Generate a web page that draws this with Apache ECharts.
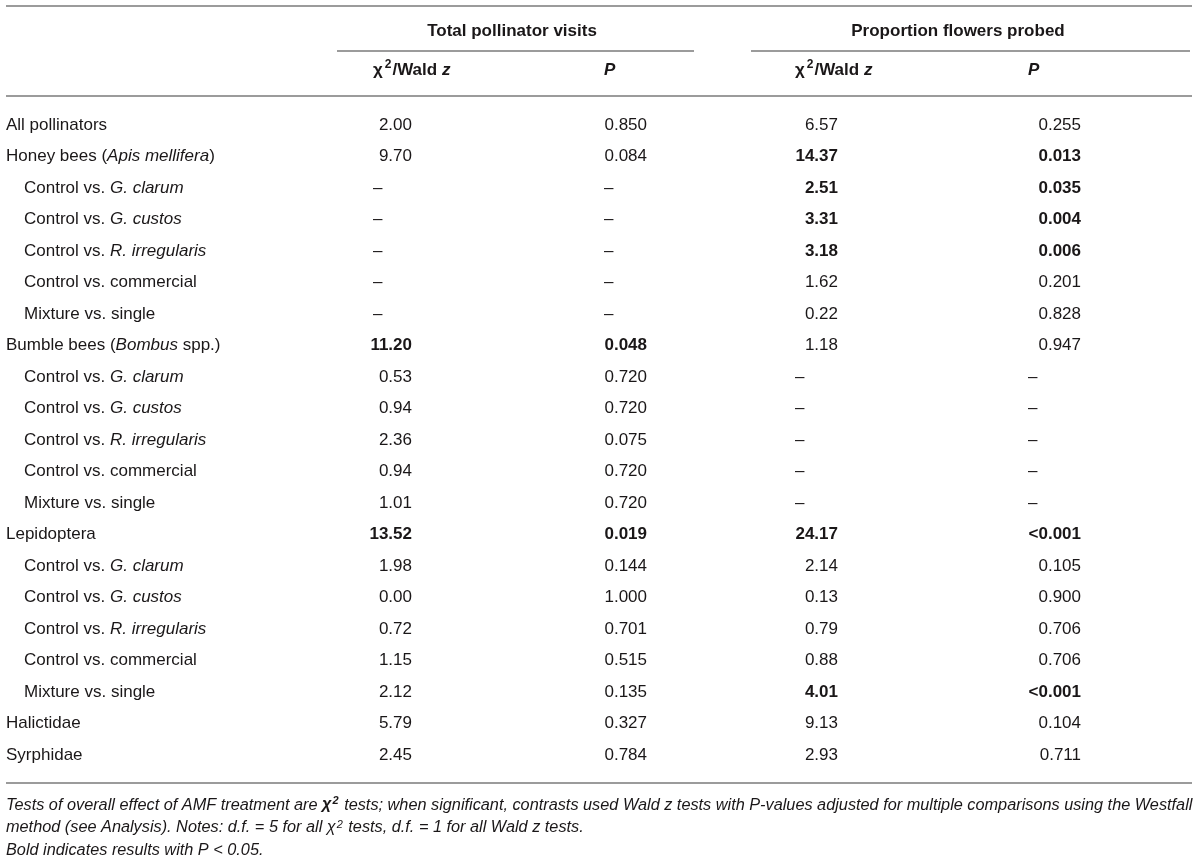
<!DOCTYPE html>
<html>
<head>
<meta charset="utf-8">
<title>AMF treatment and pollinator visits</title>
<script src="https://cdn.jsdelivr.net/npm/echarts@6/dist/echarts.min.js"></script>
<style>
html, body { margin: 0; padding: 0; background: #fff; }
#main { width: 1200px; height: 862px; }
</style>
</head>
<body>
<div id="main"></div>
<script>
// table rows (rich tags: i = italic)
var rowNames = [
	'All pollinators',
	'Honey bees ({i|Apis mellifera})',
	'Control vs. {i|G. clarum}',
	'Control vs. {i|G. custos}',
	'Control vs. {i|R. irregularis}',
	'Control vs. commercial',
	'Mixture vs. single',
	'Bumble bees ({i|Bombus} spp.)',
	'Control vs. {i|G. clarum}',
	'Control vs. {i|G. custos}',
	'Control vs. {i|R. irregularis}',
	'Control vs. commercial',
	'Mixture vs. single',
	'Lepidoptera',
	'Control vs. {i|G. clarum}',
	'Control vs. {i|G. custos}',
	'Control vs. {i|R. irregularis}',
	'Control vs. commercial',
	'Mixture vs. single',
	'Halictidae',
	'Syrphidae'
];
// 0 = main row, 1 = contrast (indented)
var rowLevel = [0, 0, 1, 1, 1, 1, 1, 0, 1, 1, 1, 1, 1, 0, 1, 1, 1, 1, 1, 0, 0];

// Total pollinator visits
var tpvChi = ['2.00', '9.70', '–', '–', '–', '–', '–', '11.20', '0.53', '0.94', '2.36', '0.94', '1.01',
	'13.52', '1.98', '0.00', '0.72', '1.15', '2.12', '5.79', '2.45'];
var tpvP = ['0.850', '0.084', '–', '–', '–', '–', '–', '0.048', '0.720', '0.720', '0.075', '0.720', '0.720',
	'0.019', '0.144', '1.000', '0.701', '0.515', '0.135', '0.327', '0.784'];
// Proportion flowers probed
var pfpChi = ['6.57', '14.37', '2.51', '3.31', '3.18', '1.62', '0.22', '1.18', '–', '–', '–', '–', '–',
	'24.17', '2.14', '0.13', '0.79', '0.88', '4.01', '9.13', '2.93'];
var pfpP = ['0.255', '0.013', '0.035', '0.004', '0.006', '0.201', '0.828', '0.947', '–', '–', '–', '–', '–',
	'<0.001', '0.105', '0.900', '0.706', '0.706', '<0.001', '0.104', '0.711'];

var groupTitles = ['Total pollinator visits', 'Proportion flowers probed'];
var colTitles = ['{b|χ}{sup|2}{b|/Wald }{bi|z}', '{bi|P}', '{b|χ}{sup|2}{b|/Wald }{bi|z}', '{bi|P}'];
var footnotes = [
	'Tests of overall effect of AMF treatment are {bx|χ}{bsup|2} tests; when significant, contrasts used Wald z tests with P-values adjusted for multiple comparisons using the Westfall',
	'method (see Analysis). Notes: d.f. = 5 for all χ{sup|2} tests, d.f. = 1 for all Wald z tests.',
	'Bold indicates results with P < 0.05.'
];

// 布局
var W = 1200, H = 862;
var FONT = '"Liberation Sans", Arial, Helvetica, sans-serif';
var TXT = '#1a1718';
var RULE = '#7a7a7a';
var rowTop = 125, rowStep = 31.5;
var colLeft = [373, 604, 795, 1028];
var colRight = [412, 647, 838, 1081];
var groupCenter = [512, 958];
var groupLine = [[337, 694], [751, 1190]];

function isSig(p) {
	if (p.charAt(0) == '<') return true;
	var v = parseFloat(p);
	return !isNaN(v) && v < 0.05;
}

var rowCats = rowNames.map(function (n, i) { return 'r' + i; });

// row label column
var labelData = rowNames.map(function (name, i) {
	return {
		value: [rowLevel[i] ? 24 : 6, i],
		label: { formatter: name, align: 'left' }
	};
});

function valueSeries(c, vals, pvals) {
	var data = vals.map(function (v, i) {
		var dash = v == '–';
		return {
			value: [dash ? colLeft[c] : colRight[c], i],
			label: {
				formatter: v,
				align: dash ? 'left' : 'right',
				fontWeight: isSig(pvals[i]) ? 'bold' : 'normal'
			}
		};
	});
	return cellSeries(data);
}

function cellSeries(data) {
	return {
		type: 'scatter',
		symbolSize: 1,
		itemStyle: { color: 'rgba(0,0,0,0)' },
		silent: true,
		label: {
			show: true,
			position: 'inside',
			verticalAlign: 'middle',
			fontFamily: FONT,
			fontSize: 17,
			color: TXT,
			opacity: 1,
			textBorderWidth: 0,
			rich: {
				i: { fontFamily: FONT, fontSize: 17, fontStyle: 'italic', color: TXT }
			}
		},
		data: data
	};
}

var graphics = [];
function rule(x1, x2, y) {
	graphics.push({
		type: 'line', silent: true,
		shape: { x1: x1, y1: y, x2: x2, y2: y },
		style: { stroke: RULE, lineWidth: 1.5 }
	});
}
rule(6, 1192, 6);
rule(groupLine[0][0], groupLine[0][1], 51);
rule(groupLine[1][0], groupLine[1][1], 51);
rule(6, 1192, 96);
rule(6, 1192, 783);

groupTitles.forEach(function (t, g) {
	graphics.push({
		type: 'text', silent: true, x: groupCenter[g], y: 31,
		style: {
			text: t, font: 'bold 17px ' + FONT, fill: TXT,
			align: 'center', verticalAlign: 'middle'
		}
	});
});
colTitles.forEach(function (t, c) {
	graphics.push({
		type: 'text', silent: true, x: colLeft[c], y: 70,
		style: {
			text: t, fill: TXT, align: 'left', verticalAlign: 'middle',
			rich: {
				b: { fontFamily: FONT, fontSize: 17, fontWeight: 'bold', fill: TXT, lineHeight: 22 },
				bi: { fontFamily: FONT, fontSize: 17, fontWeight: 'bold', fontStyle: 'italic', fill: TXT, lineHeight: 22 },
				sup: { fontFamily: FONT, fontSize: 12, fontWeight: 'bold', fill: TXT, verticalAlign: 'top', padding: [0, 1, 0, 2] }
			}
		}
	});
});
var footY = [805, 827, 850];
footnotes.forEach(function (t, k) {
	graphics.push({
		type: 'text', silent: true, x: 6, y: footY[k],
		style: {
			text: t, fill: TXT, align: 'left', verticalAlign: 'middle',
			font: 'italic 16.3px ' + FONT,
			rich: {
				bx: { fontFamily: FONT, fontSize: 16.3, fontWeight: 'bold', fontStyle: 'italic', fill: TXT, lineHeight: 20 },
				bsup: { fontFamily: FONT, fontSize: 11, fontWeight: 'bold', fontStyle: 'italic', fill: TXT, verticalAlign: 'top', padding: [0, 1, 0, 1] },
				sup: { fontFamily: FONT, fontSize: 11, fontStyle: 'italic', fill: TXT, verticalAlign: 'top', padding: [0, 1, 0, 1] }
			}
		}
	});
});

var myChart = echarts.init(document.getElementById('main'));
var option = {
	animation: false,
	backgroundColor: '#fff',
	grid: {
		left: 0, right: 0,
		top: rowTop - rowStep / 2,
		height: rowStep * rowNames.length
	},
	xAxis: { type: 'value', min: 0, max: W, show: false },
	yAxis: { type: 'category', data: rowCats, inverse: true, show: false },
	series: [
		cellSeries(labelData),
		valueSeries(0, tpvChi, tpvP),
		valueSeries(1, tpvP, tpvP),
		valueSeries(2, pfpChi, pfpP),
		valueSeries(3, pfpP, pfpP)
	],
	graphic: graphics
};
myChart.setOption(option);
</script>
</body>
</html>
